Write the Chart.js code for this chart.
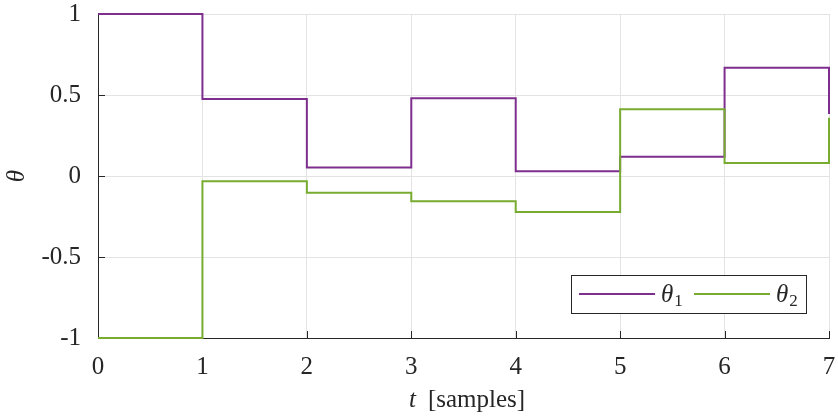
<!DOCTYPE html>
<html>
<head>
<meta charset="utf-8">
<script src="https://cdn.jsdelivr.net/npm/chart.js@4/dist/chart.umd.min.js"></script>
<style>
  html, body { margin: 0; padding: 0; background: #ffffff; }
  #wrap { width: 838px; height: 417px; position: relative; }
</style>
</head>
<body>
<div id="wrap"><canvas id="c" width="838" height="417"></canvas></div>
<script>
// ---- data ----
const samples = [0, 1, 2, 3, 4, 5, 6, 7];
const theta1 = [1, 0.475, 0.053, 0.48, 0.029, 0.119, 0.668, 0.383];
const theta2 = [-1, -0.033, -0.103, -0.156, -0.222, 0.412, 0.08, 0.36];
const xTickValues = [0, 1, 2, 3, 4, 5, 6, 7];
const yTickLabels = { '-1': '-1', '-0.5': '-0.5', '0': '0', '0.5': '0.5', '1': '1' };
const seriesSymbols = ['θ', 'θ'];
const seriesSubscripts = ['1', '2'];
const xTitleItalic = 't';
const xTitleRest = '[samples]';
const yTitle = 'θ';

const colors = ['#7E2F8E', '#77AC30'];
const FONT = "'Liberation Serif', 'Times New Roman', serif";
const AXIS = '#262626';

const toXY = (ys) => samples.map((x, i) => ({ x: x, y: ys[i] }));

const innerTicks = {
  id: 'innerTicks',
  beforeDatasetsDraw(chart) {
    const { ctx, chartArea: a, scales: { x, y } } = chart;
    ctx.save();
    ctx.strokeStyle = AXIS;
    ctx.lineWidth = 1;
    ctx.beginPath();
    xTickValues.forEach(v => {
      const px = Math.round(x.getPixelForValue(v)) + 0.5;
      ctx.moveTo(px, a.bottom);
      ctx.lineTo(px, a.bottom - 7);
    });
    y.ticks.forEach(t => {
      const py = Math.round(y.getPixelForValue(t.value)) + 0.5;
      ctx.moveTo(a.left, py);
      ctx.lineTo(a.left + 7, py);
    });
    ctx.stroke();
    ctx.restore();
  },
  afterDraw(chart) {
    const { ctx, chartArea: a } = chart;
    ctx.save();
    // x axis title
    ctx.fillStyle = AXIS;
    ctx.textBaseline = 'alphabetic';
    ctx.font = 'italic 25px ' + FONT;
    const w1 = ctx.measureText(xTitleItalic).width;
    ctx.font = '25px ' + FONT;
    const w2 = ctx.measureText(xTitleRest).width;
    const gap = 12;
    let sx = 467 - (w1 + gap + w2) / 2;
    const ty = 407;
    ctx.font = 'italic 25px ' + FONT;
    ctx.textAlign = 'left';
    ctx.fillText(xTitleItalic, sx, ty);
    ctx.font = '25px ' + FONT;
    ctx.fillText(xTitleRest, sx + w1 + gap, ty);

    // legend
    const bx = 571, by = 275, bw = 236, bh = 39;
    ctx.fillStyle = '#ffffff';
    ctx.fillRect(bx, by, bw, bh);
    ctx.strokeStyle = AXIS;
    ctx.lineWidth = 1;
    ctx.strokeRect(bx + 0.5, by + 0.5, bw - 1, bh - 1);
    const items = [
      { x0: 579, x1: 655, tx: 661 },
      { x0: 694, x1: 770, tx: 776 }
    ];
    const midY = 294;
    items.forEach((it, i) => {
      ctx.strokeStyle = colors[i];
      ctx.lineWidth = 2;
      ctx.beginPath();
      ctx.moveTo(it.x0, midY);
      ctx.lineTo(it.x1, midY);
      ctx.stroke();
      ctx.fillStyle = AXIS;
      ctx.textBaseline = 'alphabetic';
      ctx.font = 'italic 25px ' + FONT;
      ctx.fillText(seriesSymbols[i], it.tx, midY + 8);
      const tw = ctx.measureText(seriesSymbols[i]).width;
      ctx.font = '17px ' + FONT;
      ctx.fillText(seriesSubscripts[i], it.tx + tw + 1, midY + 12);
    });
    ctx.restore();
  }
};

function zeroPad(s) { s.paddingTop = 0; s.paddingBottom = 0; s.paddingLeft = 0; s.paddingRight = 0; }

new Chart(document.getElementById('c'), {
  type: 'line',
  data: {
    datasets: [
      { label: 'θ1', data: toXY(theta1), borderColor: colors[0], backgroundColor: colors[0],
        borderWidth: 2, pointRadius: 0, stepped: true, fill: false, order: 1, clip: 4 },
      { label: 'θ2', data: toXY(theta2), borderColor: colors[1], backgroundColor: colors[1],
        borderWidth: 2, pointRadius: 0, stepped: true, fill: false, order: 0, clip: 4 }
    ]
  },
  options: {
    responsive: false,
    animation: false,
    layout: { padding: { top: 14, right: 9, left: 0, bottom: 0 } },
    plugins: { legend: { display: false }, tooltip: { enabled: false } },
    scales: {
      x: {
        type: 'linear', min: 0, max: 7,
        afterFit(s) { s.height = 79; zeroPad(s); },
        afterBuildTicks(s) { s.ticks = xTickValues.map(v => ({ value: v })); },
        ticks: { stepSize: 1, padding: 14, color: AXIS, font: { family: FONT, size: 25 }, maxRotation: 0 },
        grid: { color: '#e3e3e3', lineWidth: 1, drawTicks: false },
        border: { display: true, color: AXIS, width: 1 }
      },
      y: {
        type: 'linear', min: -1, max: 1,
        afterFit(s) { s.width = 98; zeroPad(s); },
        ticks: { stepSize: 0.5, padding: 17, color: AXIS, font: { family: FONT, size: 25 },
          callback: (v) => yTickLabels[String(v)] ?? String(v) },
        grid: { color: '#e3e3e3', lineWidth: 1, drawTicks: false },
        border: { display: true, color: AXIS, width: 1 },
        title: { display: true, text: yTitle, color: AXIS, padding: { top: 2, bottom: 0 },
          font: { family: FONT, size: 25, style: 'italic' } }
      }
    }
  },
  plugins: [innerTicks]
});
</script>
</body>
</html>
